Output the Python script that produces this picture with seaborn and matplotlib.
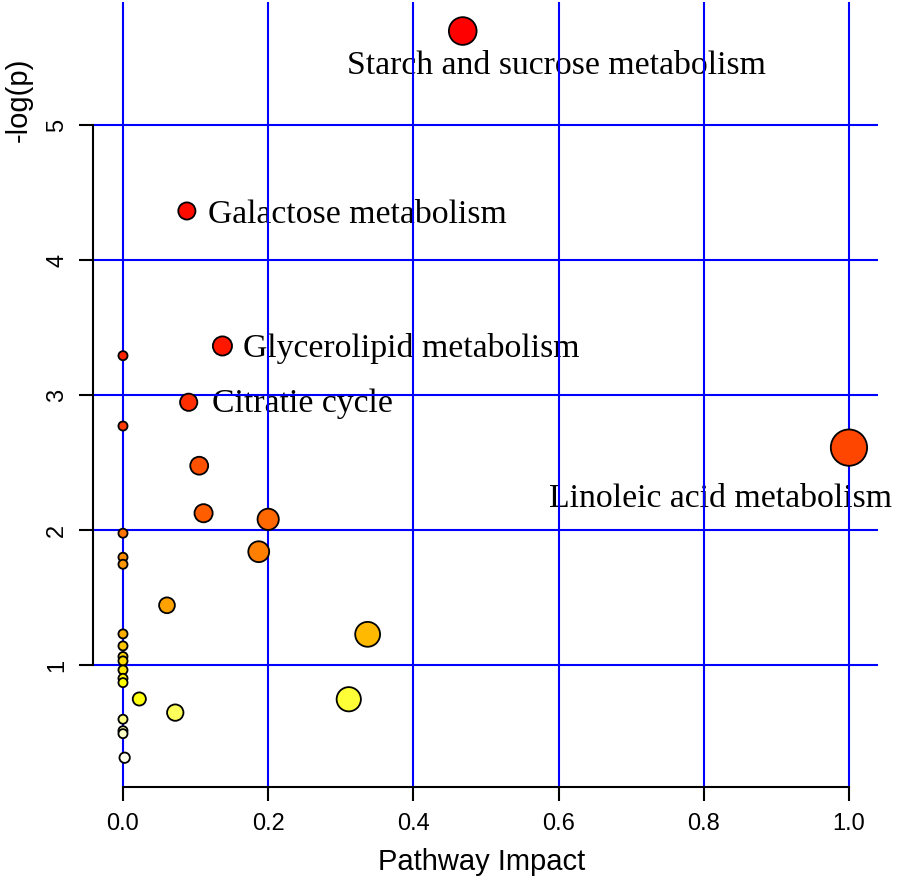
import colorsys
import numpy as np
import pandas as pd
import matplotlib
matplotlib.use("Agg")
import matplotlib.pyplot as plt
import seaborn as sns

# ---- data ----
impact = [0.468, 0.088, 0.137, 0.000, 0.0905, 0.000, 1.000, 0.105, 0.111, 0.200,
          0.000, 0.187, 0.000, 0.000, 0.0606, 0.000, 0.337, 0.000, 0.000, 0.000,
          0.000, 0.000, 0.000, 0.0225, 0.311, 0.072, 0.000, 0.000, 0.000, 0.0023]
neglogp = [5.696, 4.363, 3.363, 3.291, 2.946, 2.770, 2.610, 2.476, 2.124, 2.079,
           1.976, 1.839, 1.798, 1.746, 1.442, 1.230, 1.227, 1.141, 1.062, 1.030,
           0.963, 0.901, 0.869, 0.748, 0.746, 0.647, 0.598, 0.513, 0.491, 0.313]
labels = ["Starch and sucrose metabolism", "Galactose metabolism",
          "Glycerolipid metabolism", "", "Citratie cycle", "",
          "Linoleic acid metabolism"] + [""] * 23
x_ticks = [0.0, 0.2, 0.4, 0.6, 0.8, 1.0]
x_tick_labels = ["0.0", "0.2", "0.4", "0.6", "0.8", "1.0"]
y_ticks = [1, 2, 3, 4, 5]
y_tick_labels = ["1", "2", "3", "4", "5"]

# label placement (offset in pixels from the point, alignment)
label_style = {
    "Starch and sucrose metabolism": (94, 43, "center"),
    "Galactose metabolism": (21, 12, "left"),
    "Glycerolipid metabolism": (21, 11, "left"),
    "Citratie cycle": (23, 10, "left"),
    "Linoleic acid metabolism": (-128, 59, "center"),
}


def heat_colors(n):
    j = n // 4
    i = n - j
    cols = [colorsys.hsv_to_rgb(h, 1, 1) for h in np.linspace(0, 1 / 6, i)]
    if j > 0:
        cols += [colorsys.hsv_to_rgb(1 / 6, s, 1)
                 for s in np.linspace(1 - 1 / (2 * j), 1 / (2 * j), j)]
    return cols


df = pd.DataFrame({"impact": impact, "neglogp": neglogp, "label": labels})
df = df.sort_values("neglogp", ascending=False).reset_index(drop=True)
df["rank"] = [f"r{k:02d}" for k in range(len(df))]
palette = heat_colors(len(df))

sns.set_theme(style="white")
plt.rcParams["font.family"] = ["Liberation Sans", "DejaVu Sans"]

DPI = 100
fig = plt.figure(figsize=(8.98, 8.80), dpi=DPI)
ax = fig.add_axes([93 / 898, 93 / 880, 785 / 898, 785 / 880])
ax.set_xlim(-0.0413, 1.04)
ax.set_ylim(0.096, 5.911)

# circle radius (R symbols, in x units) based on sqrt(impact)
sqx = np.sqrt(df["impact"].to_numpy())
rng = sqx.max() - sqx.min()
maxR, minR = rng / 40, rng / 160
radius_x = minR + (maxR - minR) * (sqx - sqx.min()) / rng
px_per_x = 785 / (1.04 + 0.0413)
diam_pt = 2 * radius_x * px_per_x * 72 / DPI
sizes = diam_pt ** 2

sns.scatterplot(data=df, x="impact", y="neglogp", hue="rank",
                hue_order=list(df["rank"]), palette=palette, s=sizes,
                edgecolor="black", linewidth=1.3, legend=False, ax=ax, zorder=3)

ax.set_axisbelow(True)
ax.grid(True, color="#0000FF", linewidth=1.5, zorder=1)

for _, row in df.iterrows():
    if row["label"]:
        dx, dy, ha = label_style[row["label"]]
        ax.annotate(row["label"], (row["impact"], row["neglogp"]),
                    xytext=(dx * 72 / DPI, -dy * 72 / DPI), textcoords="offset points",
                    ha=ha, va="baseline", fontsize=24.3,
                    family=["Liberation Serif", "DejaVu Serif"], color="black",
                    zorder=0.5, annotation_clip=False)

for side in ["top", "right"]:
    ax.spines[side].set_visible(False)
ax.spines["bottom"].set_bounds(0, 1)
ax.spines["left"].set_bounds(1, 5)
for side in ["bottom", "left"]:
    ax.spines[side].set_color("black")
    ax.spines[side].set_linewidth(1.5)

ax.set_xticks(x_ticks)
ax.set_xticklabels(x_tick_labels)
ax.set_yticks(y_ticks)
ax.set_yticklabels(y_tick_labels, rotation=90, va="center")
ax.tick_params(axis="both", direction="out", length=10, width=1.5,
               color="black", labelsize=17, labelcolor="black",
               bottom=True, left=True, top=False, right=False)
ax.tick_params(axis="x", pad=9)
ax.tick_params(axis="y", pad=8)

ax.set_xlabel("Pathway Impact", fontsize=21, color="black", va="center")
ax.xaxis.set_label_coords(0.4955, -0.0955)
ax.set_ylabel("-log(p)", fontsize=21, color="black", va="center")
ax.yaxis.set_label_coords(-0.094, 0.875)

fig.savefig("out.png", dpi=DPI, facecolor="white")
